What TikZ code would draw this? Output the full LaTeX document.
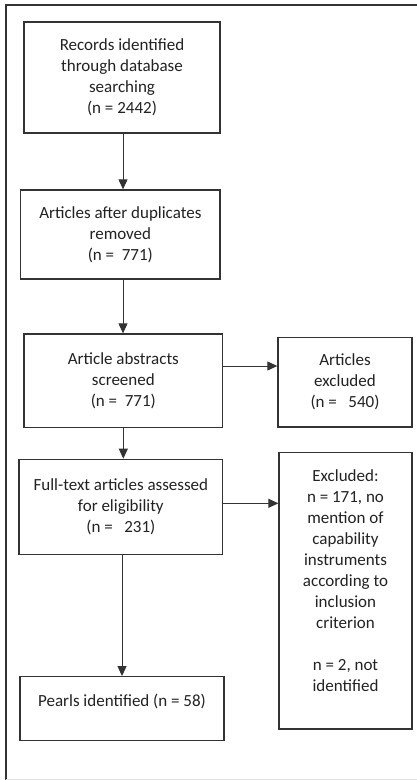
\documentclass[tikz,border=0pt]{standalone}
\usepackage{fontspec}
\setmainfont{Carlito}
\usetikzlibrary{arrows.meta}
\definecolor{ln}{HTML}{333333}
\definecolor{tx}{HTML}{222222}
\begin{document}
\begin{tikzpicture}[x=1pt,y=-1pt,
  box/.style={draw=ln,line width=1.3pt,inner sep=0pt,align=center,font=\fontsize{17}{21}\selectfont,text=tx},
  txt/.style={inner sep=0pt,align=center,font=\fontsize{17}{21}\selectfont,text=tx},
  arr/.style={draw=ln,line width=1pt,-{Triangle[length=10pt,width=9pt]}}]
\useasboundingbox (0,0) rectangle (417,780);
\fill[white] (0,0) rectangle (417,780);
\draw[line width=2pt,ln] (417,4.5) -- (5.5,4.5) -- (5.5,780);
\draw[black!12,line width=1pt] (5.5,779) -- (417,779);

\node[box,minimum width=196pt,minimum height=111pt] (b1) at (122,77.5)
  {Records identified\\through database\\searching\\(n = 2442)};
\node[box,minimum width=199.3pt,minimum height=89pt] (b2) at (120.35,234.5)
  {Articles after duplicates\\removed\\(n =~~771)};
\node[box,minimum width=198.7pt,minimum height=93.3pt] (b3) at (123.35,380.65)
  {Article abstracts\\screened\\(n =~~771)};
\node[box,minimum width=134pt,minimum height=89.7pt] (b4) at (345,382.15)
  {Articles\\excluded\\(n =~~~540)};
\node[box,minimum width=203.7pt,minimum height=95.4pt] (b5) at (120.85,507)
  {Full-text articles assessed\\for eligibility\\(n =~~~231)};
\node[box,minimum width=133pt,minimum height=276.7pt] (b6) at (345.5,590.65) {};
\node[txt] (b6t) at (345.5,580.5)
  {Excluded:\\n = 171, no\\mention of\\capability\\instruments\\according to\\inclusion\\criterion\\[21pt]n = 2, not\\identified};
\node[box,minimum width=204pt,minimum height=63.6pt] (b7) at (122,708.5) {};
\node[txt] (b7t) at (122,701.7) {Pearls identified (n = 58)};

\coordinate (vx1) at (123,0);
\coordinate (vx2) at (123.3,0);
\coordinate (vx3) at (122,0);
\coordinate (hy1) at (0,366);
\coordinate (hy2) at (0,503.3);
\draw[arr] (b1.south -| vx1) -- (b2.north -| vx1);
\draw[arr] (b2.south -| vx1) -- (b3.north -| vx1);
\draw[arr] (b3.south -| vx2) -- (b5.north -| vx2);
\draw[arr] (b5.south -| vx3) -- (b7.north -| vx3);
\draw[arr] (b3.east |- hy1) -- (b4.west |- hy1);
\draw[arr] (b5.east |- hy2) -- (b6.west |- hy2);
\end{tikzpicture}
\end{document}
